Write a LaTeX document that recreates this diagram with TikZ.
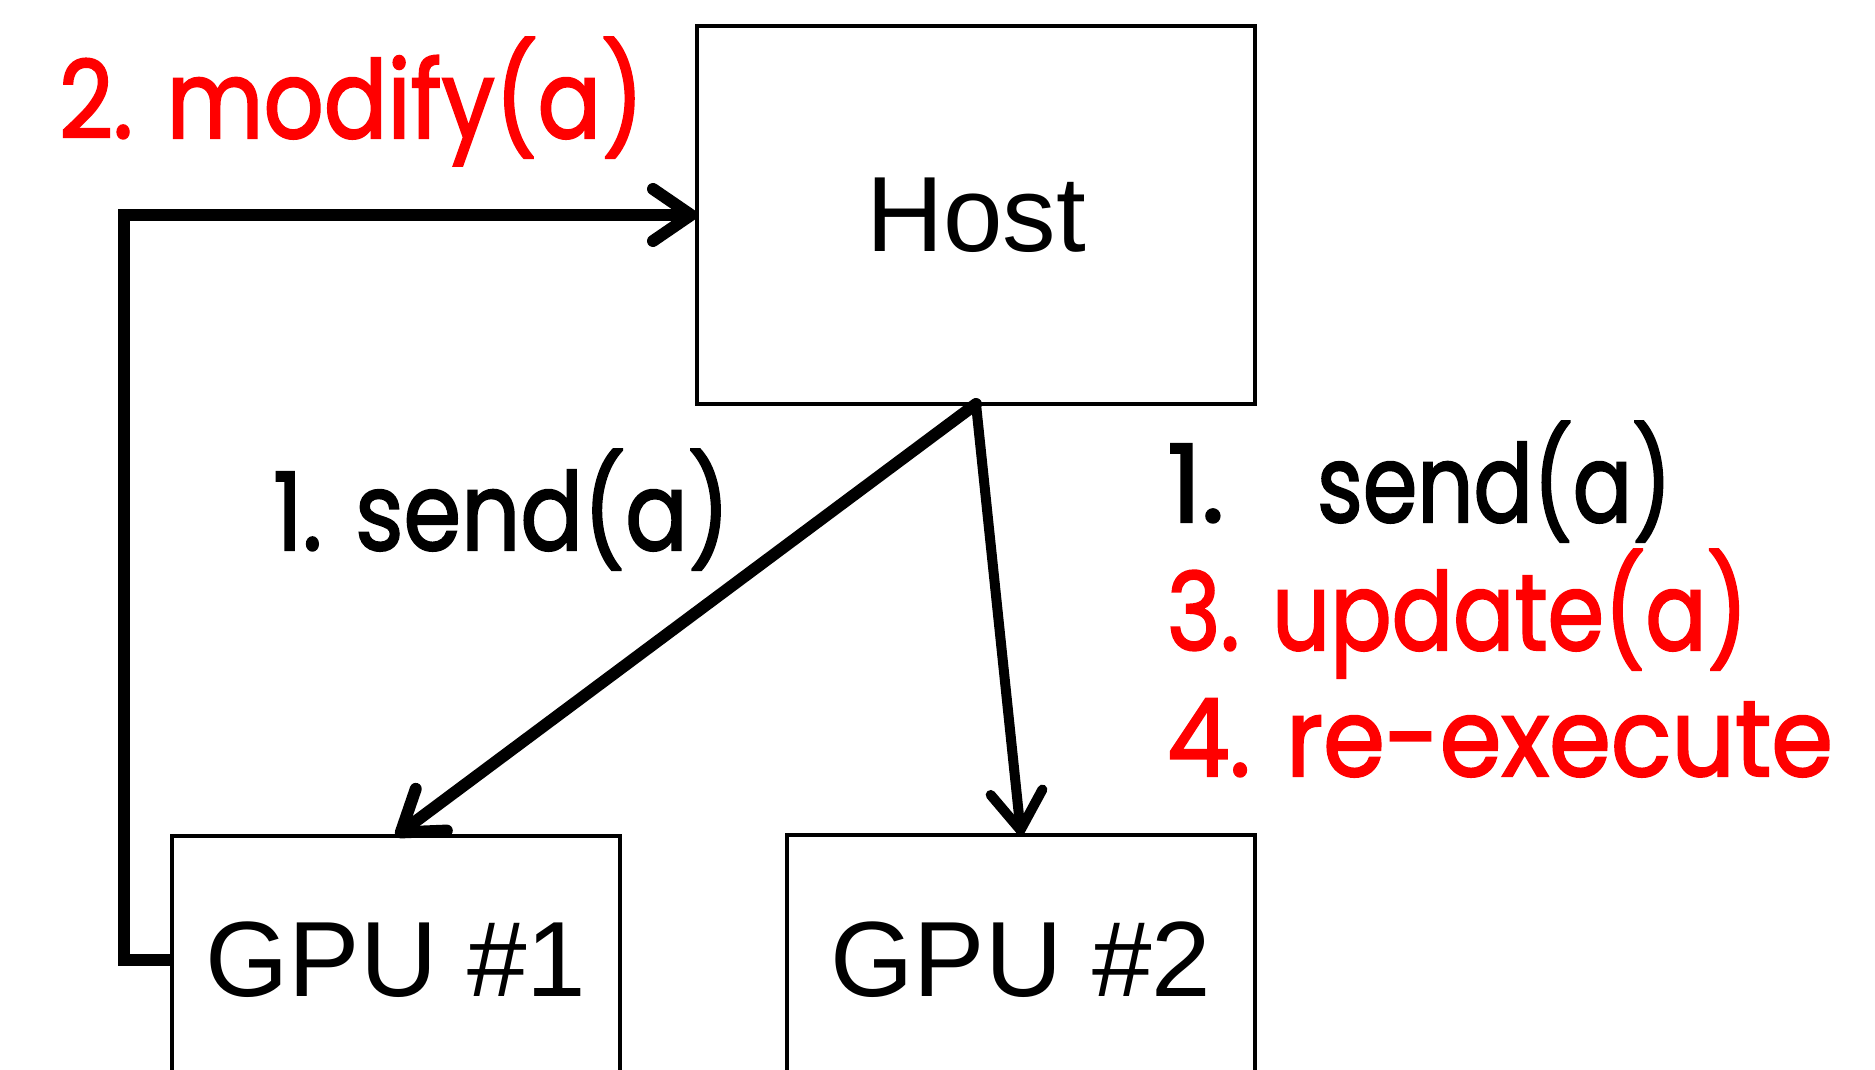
\documentclass[tikz,border=0pt]{standalone}
\usepackage{fontspec}
\usepackage{graphicx}
\setmainfont{Liberation Sans}
\newfontfamily\handfont[FakeBold=2]{Poppins}
\usetikzlibrary{arrows.meta}
\definecolor{notered}{RGB}{255,0,0}

\begin{document}
\begin{tikzpicture}[x=1pt, y=-1pt,
  box/.style={draw=black, line width=4.5pt, rectangle, inner sep=0pt, outer sep=0pt,
    font=\fontsize{107}{107}\selectfont},
  link/.style={line width=12pt, line cap=round, line join=miter,
    -{Straight Barb[length=38pt, width=52pt, line width=0pt 1, line cap=round, line join=round]}},
  note/.style={inner sep=0pt, outer sep=0pt, anchor=base west,
    font=\handfont\fontsize{108}{108}\selectfont}
]
\useasboundingbox (0,0) rectangle (1875,1070);
\clip (0,0) rectangle (1875,1070);

% boxes
\node[box, minimum width=558pt, minimum height=378pt] (host) at (976,215) {Host};
\node[box, minimum width=448pt, minimum height=248pt] (gpu1) at (396,960) {GPU \#1};
\node[box, minimum width=468pt, minimum height=250pt] (gpu2) at (1021,960) {GPU \#2};

% connectors
\draw[link] (host.south) -- (gpu1.north);
\draw[link, line width=10pt] (host.south) -- (gpu2.north);
\draw[link, line width=12pt, line cap=butt] (gpu1.west) -- ++(-48,0) coordinate (bend) |- (host.west);

% step labels
\node[note, text=notered] (modify) at (59,138) {\resizebox{585pt}{\height}{2. modify(a)}};
\node[note] (sendleft) at (273,550) {\resizebox{457pt}{\height}{1. send(a)}};
\node[note] (sendright) at (1167,522) {\makebox[150pt][l]{1.}\resizebox{355pt}{\height}{send(a)}};
\node[note, text=notered] (update) at (1167,650) {\resizebox{581pt}{\height}{3. update(a)}};
\node[note, text=notered] (reexec) at (1167,776) {\resizebox{666pt}{\height}{4. re-execute}};
\end{tikzpicture}
\end{document}
